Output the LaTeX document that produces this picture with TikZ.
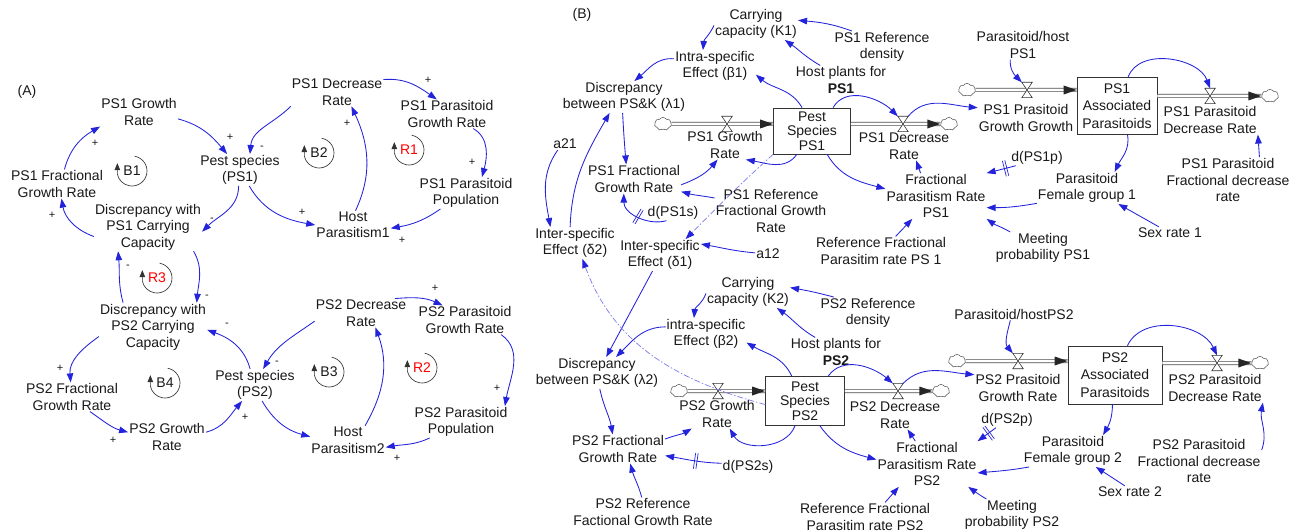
\documentclass[tikz,border=0pt]{standalone}
\usepackage{fontspec}
\setmainfont{Liberation Sans}
\usetikzlibrary{arrows.meta,shapes.symbols}
\definecolor{arrowblue}{RGB}{35,35,220}
\definecolor{txt}{RGB}{25,25,25}
\newcommand{\hashbars}{\rule[-8pt]{0.7pt}{16pt}\hspace{1.8pt}\rule[-8pt]{0.7pt}{16pt}}
\tikzset{
  lbl/.style={align=center, inner sep=1pt, text=txt, font=\fontsize{14}{16.5}\selectfont},
  pol/.style={inner sep=0pt, text=txt, font=\fontsize{11}{12}\selectfont},
  stock/.style={draw=black!80, line width=0.7pt, fill=white, align=center, inner sep=1pt, text=txt, font=\fontsize{14}{14.5}\selectfont},
  ar/.style={draw=arrowblue, line width=0.85pt, -{Triangle[length=9pt,width=6.5pt]}},
  dd/.style={draw=arrowblue!60, line width=0.7pt, dash pattern=on 6pt off 2pt on 1.5pt off 2pt, -{Triangle[length=9pt,width=6.5pt,color=arrowblue]}},
  pipe/.style={draw=black!70, line width=0.7pt, double=white, double distance=2.6pt},
  cloudsh/.style={cloud, cloud puffs=7, cloud puff arc=110, aspect=1.4, draw=black!70, fill=white, line width=0.5pt, minimum width=17pt, minimum height=13pt, inner sep=0pt},
  valve/.style={minimum width=10pt, minimum height=15pt, inner sep=0pt},
  hashm/.style={sloped, inner sep=0pt, anchor=center, text=arrowblue},
  loopring/.style={draw=black!80, line width=0.65pt, -{Triangle[length=7pt,width=5.5pt]}},
  looplbl/.style={inner sep=0pt, text=txt, font=\fontsize{14}{16}\selectfont},
  pipetip/.pic={\fill[black!85] (0pt,0pt) -- (-13pt,4.5pt) -- (-13pt,-4.5pt) -- cycle;},
}
\newcommand{\loopsym}[1]{\draw[loopring] (#1.center) ++(80:15pt) arc[start angle=80, end angle=-168, radius=15pt] -- ++(0pt,11pt);}
\begin{document}
\begin{tikzpicture}[x=1pt,y=1pt]
\fill[white] (0,0) rectangle (1306,-532);
\useasboundingbox (0,0) rectangle (1306,-532);

% ================= Panel A =================
\node[lbl] (tA) at (27,-92) {(A)};
\node[lbl] (A1g) at (139,-112) {PS1 Growth\\Rate};
\node[lbl] (A1f) at (57,-184) {PS1 Fractional\\Growth Rate};
\node[lbl] (A1d) at (148,-227) {Discrepancy with\\PS1 Carrying\\Capacity};
\node[lbl] (A1p) at (240,-170) {Pest species\\(PS1)};
\node[lbl] (A1dr) at (337,-92) {PS1 Decrease\\Rate};
\node[lbl] (A1pg) at (447,-114) {PS1 Parasitoid\\Growth Rate};
\node[lbl] (A1pp) at (466,-193) {PS1 Parasitoid\\Population};
\node[lbl] (A1h) at (353,-225) {Host\\Parasitism1};
\node[lbl] (A2d) at (153,-327) {Discrepancy with\\PS2 Carrying\\Capacity};
\node[lbl] (A2f) at (72,-397) {PS2 Fractional\\Growth Rate};
\node[lbl] (A2g) at (167,-437) {PS2 Growth\\Rate};
\node[lbl] (A2p) at (255,-385) {Pest species\\(PS2)};
\node[lbl] (A2dr) at (361,-313) {PS2 Decrease\\Rate};
\node[lbl] (A2pg) at (465,-320) {PS2 Parasitoid\\Growth Rate};
\node[lbl] (A2pp) at (461,-422) {PS2 Parasitoid\\Population};
\node[lbl] (A2h) at (348,-440) {Host\\Parasitism2};

% loops
\node[looplbl] (LB1) at (132,-171) {B1};
\loopsym{LB1}
\node[looplbl] (LB2) at (319,-153) {B2};
\loopsym{LB2}
\node[looplbl, text=red] (LR1) at (409,-150) {R1};
\loopsym{LR1}
\node[looplbl, text=red] (LR3) at (157,-278) {R3};
\loopsym{LR3}
\node[looplbl] (LB4) at (165,-383) {B4};
\loopsym{LB4}
\node[looplbl] (LB3) at (329,-372) {B3};
\loopsym{LB3}
\node[looplbl, text=red] (LR2) at (422,-368) {R2};
\loopsym{LR2}

% arrows A
\draw[ar] (A1g.-10) to[out=-15,in=130] (A1p.129);
\draw[ar] (A1dr.south west) to[out=225,in=85] (A1p.58);
\draw[ar] (A1p.265) to[out=-90,in=45] (A1d.-5);
\draw[ar] (A1d.190) to[out=160,in=-80] (A1f.-73);
\draw[ar] (A1f.63) to[out=75,in=210] (A1g.south west);
\draw[ar] (A1p.-60) to[out=-60,in=170] (A1h.180);
\draw[ar] (A1h.80) to[out=65,in=-65] (A1dr.-45);
\draw[ar] (A1dr.15) to[out=5,in=145] (A1pg.125);
\draw[ar] (A1pg.-29) to[out=-30,in=75] (A1pp.45);
\draw[ar] (A1pp.212) to[out=215,in=10] (A1h.-5);
\draw[ar] (A1d.-28) to[out=-60,in=85] (A2d.29);
\draw[ar] (A2d.141) to[out=105,in=-85] (A1d.219);
\draw[ar] (A2d.190) to[out=215,in=95] (A2f.95);
\draw[ar] (A2f.-39) to[out=-35,in=165] (A2g.173);
\draw[ar] (A2g.7) to[out=15,in=230] (A2p.231);
\draw[ar] (A2p.107) to[out=105,in=-20] (A2d.-3);
\draw[ar] (A2dr.190) to[out=215,in=60] (A2p.63);
\draw[ar] (A2p.-66) to[out=-60,in=165] (A2h.175);
\draw[ar] (A2h.40) to[out=60,in=-70] (A2dr.-45);
\draw[ar] (A2dr.23) to[out=5,in=155] (A2pg.147);
\draw[ar] (A2pg.-22) to[out=-35,in=80] (A2pp.20);
\draw[ar] (A2pp.207) to[out=205,in=10] (A2h.-11);

% polarities
\node[pol] (p1) at (230,-137) {+};
\node[pol] (p2) at (95,-143) {+};
\node[pol] (p3) at (52,-215) {+};
\node[pol] (p4) at (302,-212) {+};
\node[pol] (p5) at (347,-123) {+};
\node[pol] (p6) at (428,-80) {+};
\node[pol] (p7) at (472,-162) {+};
\node[pol] (p8) at (402,-240) {+};
\node[pol] (m1) at (262,-148) {-};
\node[pol] (m2) at (212,-220) {-};
\node[pol] (m3) at (128,-267) {-};
\node[pol] (m4) at (207,-297) {-};
\node[pol] (m5) at (227,-325) {-};
\node[pol] (m6) at (277,-363) {-};
\node[pol] (p9) at (60,-368) {+};
\node[pol] (p10) at (113,-440) {+};
\node[pol] (p11) at (245,-417) {+};
\node[pol] (p12) at (435,-288) {+};
\node[pol] (p13) at (497,-388) {+};
\node[pol] (p14) at (397,-458) {+};

% ================= Panel B =================
\node[lbl] (tB) at (582,-15) {(B)};
\node[lbl] (Bk1) at (756,-24) {Carrying\\capacity (K1)};
\node[lbl] (Bref1) at (882,-47) {PS1 Reference\\density};
\node[lbl] (Bb1) at (715,-66) {Intra-specific\\Effect (β1)};
\node[lbl] (Bhost1) at (841,-80) {Host plants for\\\textbf{PS1}};
\node[lbl] (Bl1) at (624,-97) {Discrepancy\\between PS\&K (λ1)};
\node[lbl] (Bg1) at (725,-145) {PS1 Growth\\Rate};
\node[lbl] (Bd1) at (904,-146) {PS1 Decrease\\Rate};
\node[lbl] (Bph1) at (1023,-45) {Parasitoid/host\\PS1};
\node[lbl] (Bpp1) at (1026,-118) {PS1 Prasitoid\\Growth Growth};
\node[lbl] (Bpd1) at (1210,-120) {PS1 Parasitoid\\Decrease Rate};
\node[lbl] (Bpf1) at (1228,-180) {PS1 Parasitoid\\Fractional decrease\\rate};
\node[lbl] (BdP1) at (1037,-158) {d(PS1p)};
\node[lbl] (Bf1) at (1087,-188) {Parasitoid\\Female group 1};
\node[lbl] (Bsex1) at (1170,-233) {Sex rate 1};
\node[lbl] (Bm1) at (1043,-248) {Meeting\\probability PS1};
\node[lbl] (Bfp1) at (936,-196) {Fractional\\Parasitism Rate\\PS1};
\node[lbl] (Brf1) at (771,-211) {PS1 Reference\\Fractional Growth\\Rate};
\node[lbl] (Bfr1) at (634,-179) {PS1 Fractional\\Growth Rate};
\node[lbl] (Bds1) at (673,-213) {d(PS1s)};
\node[lbl] (Bi2) at (575,-243) {Inter-specific\\Effect (δ2)};
\node[lbl] (Bi1) at (660,-255) {Inter-specific\\Effect (δ1)};
\node[lbl] (Ba21) at (565,-144) {a21};
\node[lbl] (Ba12) at (768,-254) {a12};
\node[lbl] (Brp1) at (881,-251) {Reference Fractional\\Parasitim rate PS 1};

\node[lbl] (Bk2) at (748,-292) {Carrying\\capacity (K2)};
\node[lbl] (Bref2) at (868,-313) {PS2 Reference\\density};
\node[lbl] (Bb2) at (706,-334) {intra-specific\\Effect (β2)};
\node[lbl] (Bhost2) at (836,-352) {Host plants for\\\textbf{PS2}};
\node[lbl] (Bph2) at (1014,-314) {Parasitoid/hostPS2};
\node[lbl] (Bl2) at (597,-373) {Discrepancy\\between PS\&K (λ2)};
\node[lbl] (Bg2) at (717,-414) {PS2 Growth\\Rate};
\node[lbl] (Bd2) at (895,-415) {PS2 Decrease\\Rate};
\node[lbl] (Bpp2) at (1018,-388) {PS2 Prasitoid\\Growth Rate};
\node[lbl] (Bpd2) at (1215,-388) {PS2 Parasitoid\\Decrease Rate};
\node[lbl] (BdP2) at (1007,-420) {d(PS2p)};
\node[lbl] (Bf2) at (1073,-451) {Parasitoid\\Female group 2};
\node[lbl] (Bpf2) at (1199,-461) {PS2 Parasitoid\\Fractional decrease\\rate};
\node[lbl] (Bsex2) at (1130,-492) {Sex rate 2};
\node[lbl] (Bm2) at (1012,-515) {Meeting\\probability PS2};
\node[lbl] (Bfp2) at (927,-464) {Fractional\\Parasitism Rate\\PS2};
\node[lbl] (Brp2) at (865,-517) {Reference Fractional\\Parasitim rate PS2};
\node[lbl] (Bfr2) at (618,-449) {PS2 Fractional\\Growth Rate};
\node[lbl] (Bds2) at (748,-467) {d(PS2s)};
\node[lbl] (Brf2) at (643,-512) {PS2 Reference\\Factional Growth Rate};

% valves (holders)
\node[valve] (vg1) at (727,-124) {};
\node[valve] (vd1) at (903,-124) {};
\node[valve] (vp1) at (1027,-90) {};
\node[valve] (vpd1) at (1210,-96) {};
\node[valve] (vg2) at (718,-391) {};
\node[valve] (vd2) at (898,-391) {};
\node[valve] (vp2) at (1018,-361) {};
\node[valve] (vpd2) at (1217,-363) {};

% clouds
\node[cloudsh] (c1) at (663,-124) {};
\node[cloudsh] (c2) at (949,-124) {};
\node[cloudsh] (c3) at (967,-90) {};
\node[cloudsh] (c4) at (1270,-96) {};
\node[cloudsh] (c5) at (679,-391) {};
\node[cloudsh] (c6) at (941,-391) {};
\node[cloudsh] (c7) at (957,-361) {};
\node[cloudsh] (c8) at (1260,-363) {};

% stocks
\node[stock, minimum width=77pt, minimum height=46pt] (Bs1) at (812,-131) {Pest\\Species\\PS1};
\node[stock, minimum width=80pt, minimum height=57pt, font=\fontsize{14}{17.5}\selectfont] (Ba1) at (1117,-106) {PS1\\Associated\\Parasitoids};
\node[stock, minimum width=79pt, minimum height=49pt] (Bs2) at (805,-401) {Pest\\Species\\PS2};
\node[stock, minimum width=94pt, minimum height=58pt, font=\fontsize{14}{17.5}\selectfont] (Ba2) at (1115,-375) {PS2\\Associated\\Parasitoids};

% pipes
\draw[pipe] (c1.east) -- (Bs1.west |- c1);
\pic at (Bs1.west |- c1) {pipetip};
\draw[pipe] (Bs1.east |- c2) -- (c2.west);
\pic at (c2.west) {pipetip};
\draw[pipe] (c3.east) -- (Ba1.west |- c3);
\pic at (Ba1.west |- c3) {pipetip};
\draw[pipe] (Ba1.east |- c4) -- (c4.west);
\pic at (c4.west) {pipetip};
\draw[pipe] (c5.east) -- (Bs2.west |- c5);
\pic at (Bs2.west |- c5) {pipetip};
\draw[pipe] (Bs2.east |- c6) -- (c6.west);
\pic at (c6.west) {pipetip};
\draw[pipe] (c7.east) -- (Ba2.west |- c7);
\pic at (Ba2.west |- c7) {pipetip};
\draw[pipe] (Ba2.east |- c8) -- (c8.west);
\pic at (c8.west) {pipetip};
\foreach \v in {vg1,vd1,vp1,vpd1,vg2,vd2,vp2,vpd2}
  \draw[black!80, line width=0.6pt, fill=white] (\v.north west) -- (\v.north east) -- (\v.south west) -- (\v.south east) -- cycle;

% arrows B (top)
\draw[ar] (Bref1.152) to[out=160,in=-5] (Bk1.5);
\draw[ar] (Bhost1.145) to[out=150,in=-35] (Bk1.-29);
\draw[ar] (Bk1.182) to[out=-115,in=85] (Bb1.127);
\draw[ar] (Bb1.170) to[out=175,in=40] (Bl1.57);
\draw[ar] (Bs1.113) to[out=120,in=-40] (Bb1.-12);
\draw[ar] (Bs1.48) to[out=60,in=135] (vd1.north west);
\draw[ar] (vd1.north east) to[out=50,in=175] (Bpp1.168);
\draw[ar] (Bph1.229) to[out=-95,in=135] (vp1.north west);
\draw[ar] (Ba1.69) to[out=70,in=110] (vpd1.north);
\draw[ar] (Ba1.-70) to[out=-80,in=65] (Bf1.30);
\draw[ar] (Bpf1.36) -- (Bpd1.south east);
\draw[ar] (Bl1.-95) to[out=-87,in=95] (Bfr1.118);
\draw[ar] (Bi2.107) to[out=88,in=240] (Bl1.228);
\draw[ar] (Ba21.220) to[out=235,in=100] (Bi2.147);
\draw[ar] (Bfr1.-7) to[out=20,in=230] (Bg1.243);
\draw[ar] (Bs1.237) to[out=235,in=-10] (Bg1.-35);
\draw[ar] (Brf1.167) to[out=170,in=-15] (Bfr1.-15);
\draw[ar] (Bds1.230) to[out=195,in=-90] node[hashm,pos=0.5] {\hashbars} (Bfr1.235);
\draw[dd] (Bs1.south west) to[out=222,in=45] (Bi1.32);
\draw[ar] (Ba12.175) to[out=175,in=-10] (Bi1.15);
\draw[ar] (Bi1.245) -- (Bl2.60);
\draw[ar] (Bs1.-57) to[out=-60,in=165] (Bfp1.172);
\draw[ar] (Bfp1.124) -- (Bd1.-50);
\draw[ar] (Bf1.197) to[out=190,in=0] (Bfp1.-13);
\draw[ar] (Bm1.154) to[out=150,in=-35] (Bfp1.south east);
\draw[ar] (Brp1.45) -- (Bfp1.224);
\draw[ar] (Bsex1.151) -- (Bf1.-27);
\draw[ar] (BdP1.200) -- node[hashm,pos=0.35] {\hashbars} (Bfp1.north east);

% arrows B (bottom)
\draw[ar] (Bb2.170) to[out=180,in=45] (Bl2.40);
\draw[dd] (Bs2.185) to[out=165,in=-70] (Bi2.-65);
\draw[ar] (Bk2.182) to[out=-110,in=85] (Bb2.127);
\draw[ar] (Bref2.155) to[out=165,in=-10] (Bk2.6);
\draw[ar] (Bhost2.145) to[out=150,in=-35] (Bk2.-29);
\draw[ar] (Bs2.118) to[out=115,in=-30] (Bb2.-12);
\draw[ar] (Bs2.47) to[out=55,in=140] (vd2.north west);
\draw[ar] (vd2.north east) to[out=45,in=175] (Bpp2.163);
\draw[ar] (Bph2.240) to[out=-105,in=130] (vp2.north west);
\draw[ar] (Ba2.67) to[out=65,in=115] (vpd2.north);
\draw[ar] (Ba2.-95) to[out=-90,in=60] (Bf2.28);
\draw[ar] (Bpf2.10) to[out=70,in=-100] (Bpd2.south east);
\draw[ar] (Bsex2.130) -- (Bf2.-35);
\draw[ar] (Bf2.200) to[out=190,in=5] (Bfp2.-10);
\draw[ar] (Bm2.148) to[out=150,in=-35] (Bfp2.-29);
\draw[ar] (Brp2.36) -- (Bfp2.219);
\draw[ar] (Bfp2.117) -- (Bd2.-49);
\draw[ar] (Bs2.-59) to[out=-55,in=165] (Bfp2.175);
\draw[ar] (Bfr2.12) to[out=20,in=210] (Bg2.210);
\draw[ar] (Bs2.248) to[out=-110,in=-60] (Bg2.-49);
\draw[ar] (Bds2.172) to[out=178,in=-10] node[hashm,pos=0.45] {\hashbars} (Bfr2.-8);
\draw[ar] (Brf2.95) to[out=105,in=-75] (Bfr2.-50);
\draw[ar] (Bl2.-80) to[out=-78,in=100] (Bfr2.110);
\draw[ar] (BdP2.215) -- node[hashm,pos=0.4] {\hashbars} (Bfp2.north east);
\end{tikzpicture}
\end{document}
